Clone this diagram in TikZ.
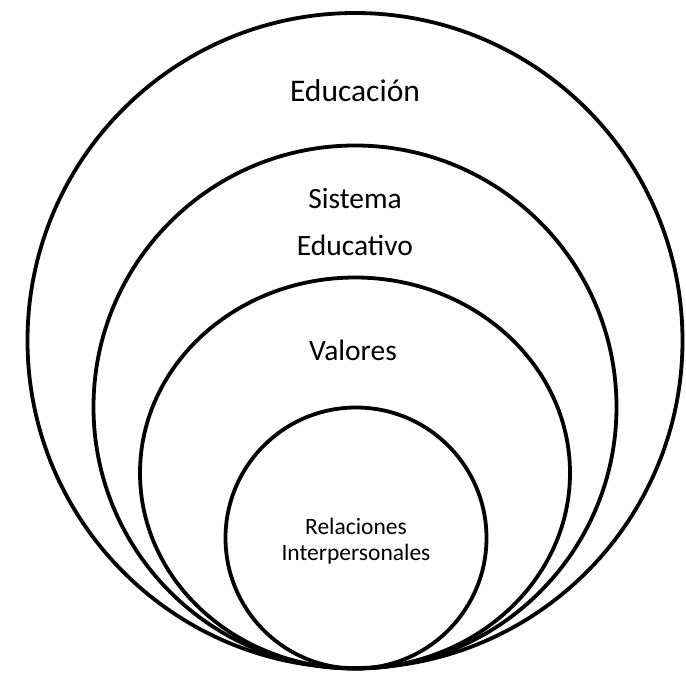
\documentclass[tikz,border=0pt]{standalone}
\usepackage{fontspec}
\setmainfont{Carlito}
\usetikzlibrary{shapes.geometric}
\tikzset{
  ring/.style={draw=black, line width=3.8pt, inner sep=0pt, outer sep=0pt, fill=none},
  biglabel/.style={anchor=base, inner sep=0pt, font=\fontsize{29.5}{35}\selectfont},
  toplabel/.style={anchor=base, inner sep=0pt, font=\fontsize{31.5}{38}\selectfont},
  smalllabel/.style={anchor=base, inner sep=0pt, font=\fontsize{23.5}{28}\selectfont}
}
\begin{document}
\begin{tikzpicture}[x=1pt, y=-1pt]
\useasboundingbox (0,0) rectangle (686,674);
\node[ring, circle, minimum size=655pt] (c1) at (355,340.5) {};
\node[ring, circle, minimum size=523pt] (c2) at (355,407) {};
\node[ring, ellipse, minimum width=430pt, minimum height=391pt] (c3) at (355,473) {};
\node[ring, circle, minimum size=261pt] (c4) at (356,538) {};
\node[toplabel] (t1) at (355,101.5) {Educación};
\node[biglabel] (t2a) at (355,208) {Sistema};
\node[biglabel] (t2b) at (355,255) {Educativo};
\node[biglabel] (t3) at (353,360) {Valores};
\node[smalllabel] (t4a) at (356,534) {Relaciones};
\node[smalllabel] (t4b) at (356,560) {Interpersonales};
\end{tikzpicture}
\end{document}
